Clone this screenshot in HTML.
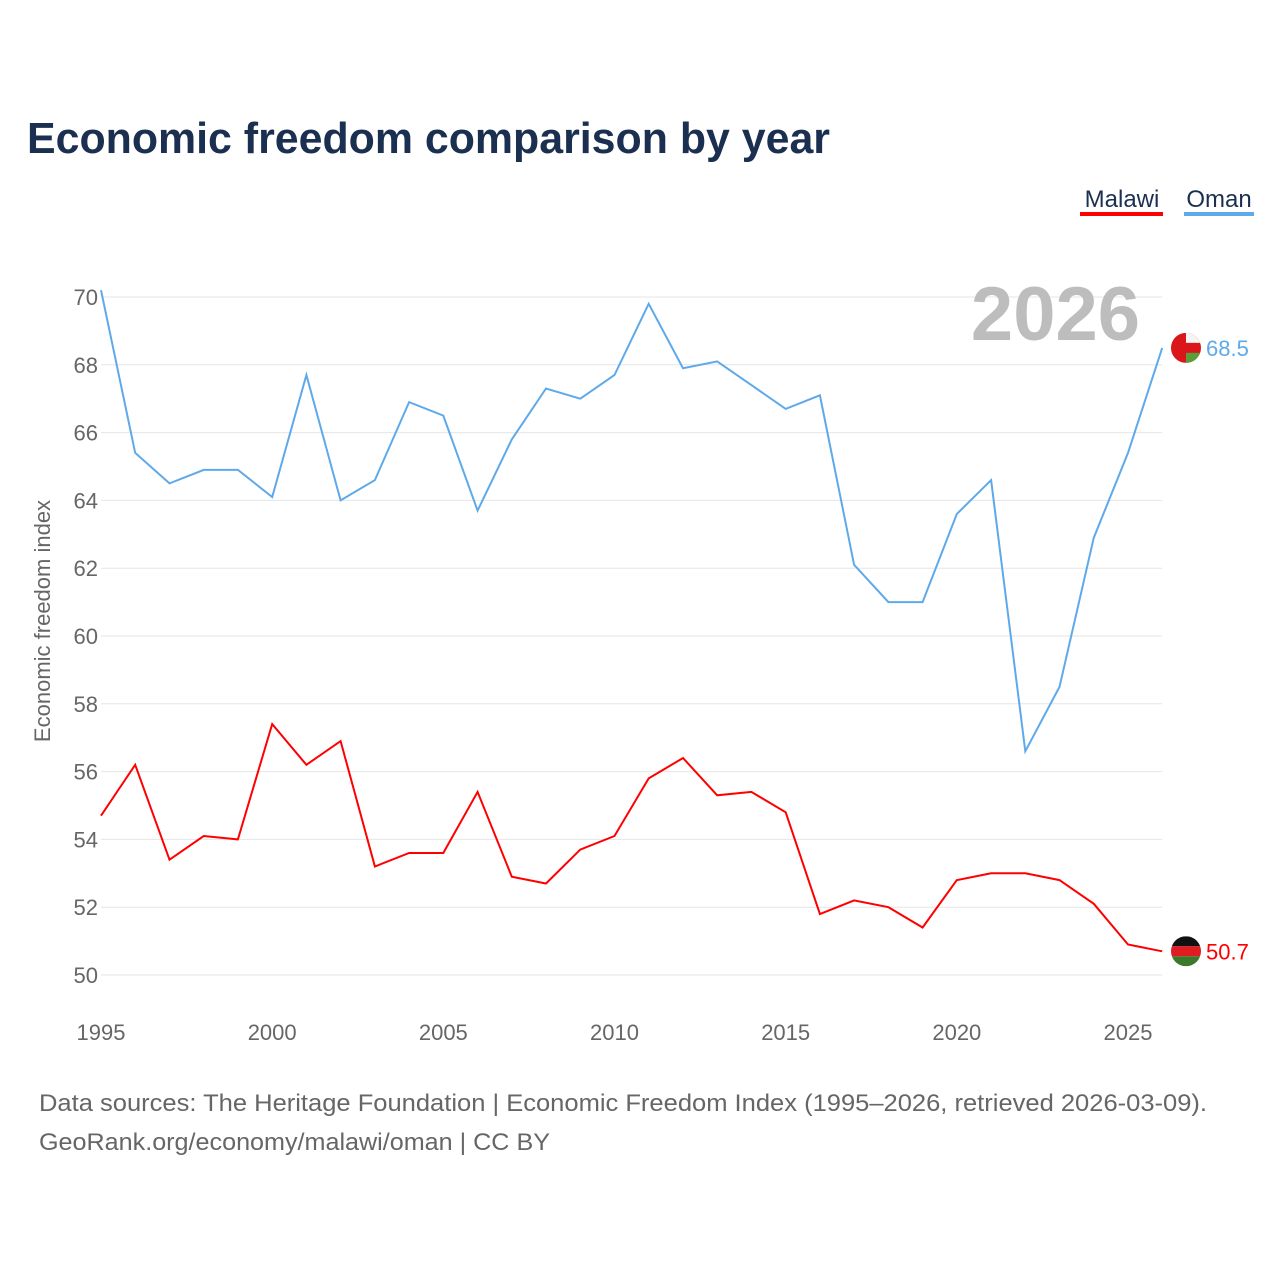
<!DOCTYPE html>
<html><head><meta charset="utf-8"><style>
body{margin:0;background:#fff;font-family:"Liberation Sans",sans-serif;}
#wrap{position:relative;width:1280px;height:1280px;overflow:hidden;}
</style></head><body>
<div id="wrap">
<svg id="chart" width="1280" height="1280"></svg>
</div>
<script>
const years=[1995,1996,1997,1998,1999,2000,2001,2002,2003,2004,2005,2006,2007,2008,2009,2010,2011,2012,2013,2014,2015,2016,2017,2018,2019,2020,2021,2022,2023,2024,2025,2026];
const omanValues=[70.2,65.4,64.5,64.9,64.9,64.1,67.7,64.0,64.6,66.9,66.5,63.7,65.8,67.3,67.0,67.7,69.8,67.9,68.1,67.4,66.7,67.1,62.1,61.0,61.0,63.6,64.6,56.6,58.5,62.9,65.4,68.5];
const malawiValues=[54.7,56.2,53.4,54.1,54.0,57.4,56.2,56.9,53.2,53.6,53.6,55.4,52.9,52.7,53.7,54.1,55.8,56.4,55.3,55.4,54.8,51.8,52.2,52.0,51.4,52.8,53.0,53.0,52.8,52.1,50.9,50.7];
const yTicks=[50,52,54,56,58,60,62,64,66,68,70];
const xTicks=[1995,2000,2005,2010,2015,2020,2025];
const NS="http://www.w3.org/2000/svg";
const svg=document.getElementById('chart');
function x(v){return 101+(v-1995)*(1128-101)/30;}
function y(v){return 975-(v-50)*(975-297)/20;}
function mk(t,a,txt){const e=document.createElementNS(NS,t);for(const k in a)e.setAttribute(k,a[k]);if(txt!==undefined)e.textContent=txt;svg.appendChild(e);return e;}
let e;
e=mk('text',{x:27,y:153,'font-size':44,'font-weight':'bold',fill:'#1b3050',textLength:803,lengthAdjust:'spacingAndGlyphs'},'Economic freedom comparison by year');


yTicks.forEach(t=>{
 e=mk('line',{x1:101,x2:1162,y1:y(t),y2:y(t),stroke:'#e6e6e6','stroke-width':1});
 
 
 e=mk('text',{x:98,y:y(t)+8,'font-size':22,fill:'#666','text-anchor':'end'},t);
 
 
});
xTicks.forEach(t=>{
 e=mk('text',{x:x(t),y:1040,'font-size':22,fill:'#666','text-anchor':'middle'},t);
 
 
});
e=mk('text',{x:0,y:0,'font-size':22,fill:'#666','text-anchor':'middle',transform:'translate(50,621) rotate(-90)'},'Economic freedom index');


e=mk('text',{x:1140,y:340,'font-size':76,'font-weight':'bold',fill:'#bdbdbd','text-anchor':'end'},'2026');


mk('clipPath',{id:'co'}).appendChild(Object.assign(document.createElementNS(NS,'circle'),{}));
function series(vals,color,name){
 const d=vals.map((v,i)=>(i?'L':'M')+x(years[i]).toFixed(1)+','+y(v).toFixed(1)).join(' ');
 e=mk('path',{d:d,fill:'none',stroke:color,'stroke-width':2});
 
 
 const lv=vals[vals.length-1],cy=y(lv);
 e=mk('text',{x:1206,y:cy+8,'font-size':22,fill:color},lv.toFixed(1));
 
 
}
series(omanValues,'#5ea9ea','oman');
series(malawiValues,'#ff0000','malawi');
function flag(cy,name,stripes){
 const id='clip-'+name;
 const cp=mk('clipPath',{id:id});
 const c=document.createElementNS(NS,'circle');c.setAttribute('cx',1186);c.setAttribute('cy',cy);c.setAttribute('r',15);cp.appendChild(c);
 const g=mk('g',{'clip-path':'url(#'+id+')'});
 
 
 stripes.forEach(s=>{const r=document.createElementNS(NS,'rect');for(const k in s)r.setAttribute(k,s[k]);g.appendChild(r);});
}
const fo=y(omanValues[omanValues.length-1]);
flag(fo,'oman',[{x:1171,y:fo-15,width:30,height:30,fill:'#db161b'},{x:1186,y:fo-15,width:15,height:10,fill:'#f4f4f4'},{x:1186,y:fo+5,width:15,height:10,fill:'#5a9e3a'}]);
const fm=y(malawiValues[malawiValues.length-1]);
flag(fm,'malawi',[{x:1171,y:fm-15,width:30,height:10,fill:'#111'},{x:1171,y:fm-5,width:30,height:10,fill:'#e01b22'},{x:1171,y:fm+5,width:30,height:10,fill:'#3a7a2a'}]);
e=mk('text',{x:1122,y:207,'font-size':24,fill:'#1b3050','text-anchor':'middle'},'Malawi');


mk('rect',{x:1080,y:212,width:83,height:4,fill:'#ff0000'});
e=mk('text',{x:1219,y:207,'font-size':24,fill:'#1b3050','text-anchor':'middle'},'Oman');


mk('rect',{x:1184,y:212,width:70,height:4,fill:'#5ea9ea'});
e=mk('text',{x:39,y:1111,'font-size':24,fill:'#666',textLength:1168,lengthAdjust:'spacingAndGlyphs'},'Data sources: The Heritage Foundation | Economic Freedom Index (1995–2026, retrieved 2026-03-09).');


e=mk('text',{x:39,y:1150,'font-size':24,fill:'#666',textLength:511,lengthAdjust:'spacingAndGlyphs'},'GeoRank.org/economy/malawi/oman | CC BY');


</script>
</body></html>
